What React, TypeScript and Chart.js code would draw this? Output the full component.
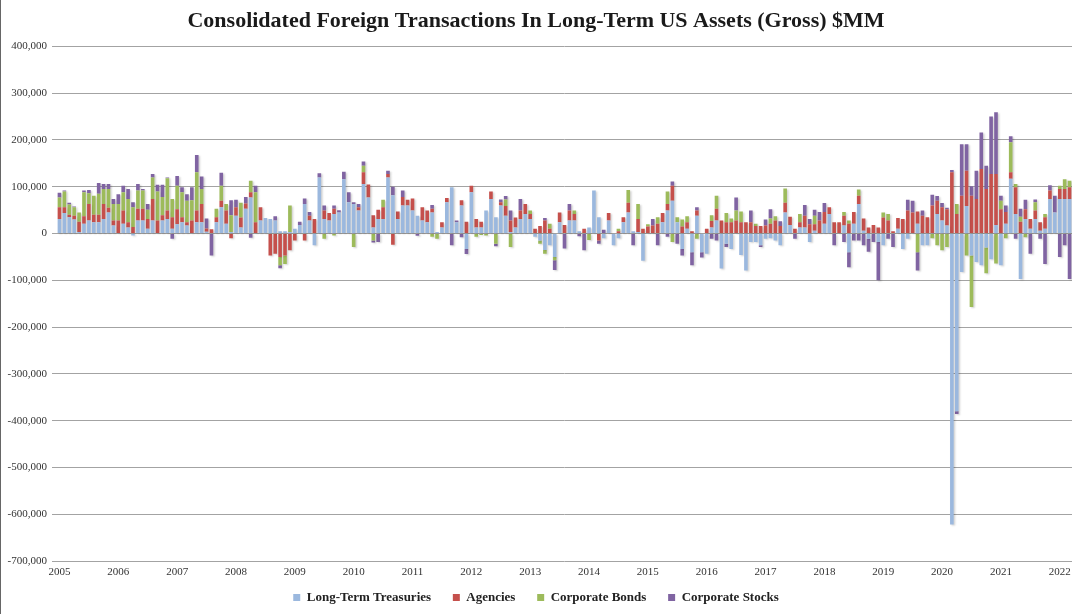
import React, { useEffect, useRef } from "react";
import { Chart, registerables } from "chart.js";

Chart.register(...registerables);

const TITLE = "Consolidated Foreign Transactions In Long-Term US Assets (Gross) $MM";
const YEARS = ["2005","2006","2007","2008","2009","2010","2011","2012","2013","2014","2015","2016","2017","2018","2019","2020","2021","2022"];
const MONTHS = ["Jan","Feb","Mar","Apr","May","Jun","Jul","Aug","Sep","Oct","Nov","Dec"];
const SERIES_NAMES = ["Long-Term Treasuries", "Agencies", "Corporate Bonds", "Corporate Stocks"];

const TREASURIES = [
  31000, 44000, 35000, 30000, 3000, 21000, 28000, 24000, 24000, 31000,
  45000, 17000, 0, 21000, 13000, -4000, 28000, 28000, 10000, 28000,
  0, 28000, 31000, 10000, 20000, 24000, 17000, 0, 24000, 24000,
  4000, 0, 24000, 56000, 21000, 3000, 38000, 13000, 53000, 77000,
  0, 28000, 33000, 31000, 28000, 5000, 5000, 3000, 10000, 18000,
  63000, 28000, -25000, 120000, 31000, 28000, 42000, 45000, 116000, 67000,
  63000, 49000, 106000, 77000, 13000, 31000, 31000, 120000, 82000, 31000,
  60000, 60000, 49000, 38000, 28000, 24000, 45000, 3000, 13000, 67000,
  99000, 24000, 60000, -33000, 88000, 13000, 13000, 49000, 74000, 35000,
  60000, 38000, 3000, 13000, 31000, 42000, 31000, -7000, -15000, -35000,
  -25000, -50000, 24000, 0, 28000, 28000, 5000, 0, 13000, 92000,
  35000, -10000, 28000, -25000, -10000, 24000, 45000, 5000, 3000, -58000,
  0, 0, 0, 24000, 49000, 70000, 24000, -33000, 10000, -40000,
  38000, -40000, -43000, 13000, 28000, -75000, -22000, -33000, 0, -46000,
  -79000, -18000, -18000, -25000, -11000, -10000, -15000, -25000, 45000, 18000,
  0, 13000, 13000, -18000, 6000, 0, 21000, 42000, 0, 0,
  17000, -40000, 21000, 63000, 6000, -11000, 0, -18000, -25000, 0,
  0, 10000, -33000, -11000, 0, 21000, -25000, -25000, 0, 42000,
  28000, 17000, -622000, -380000, -82000, 59000, -47000, -61000, -68000, -30000,
  -55000, 18000, -68000, 21000, 117000, 42000, -97000, 31000, 10000, 31000,
  6000, 10000, 74000, 45000, 74000, 74000, 74000
];

const AGENCIES = [
  25000, 12000, 5000, 8000, 22000, 16000, 35000, 16000, 16000, 32000,
  10000, 11000, 28000, 28000, 11000, 14000, 25000, 25000, 21000, 46000,
  28000, 11000, 18000, 25000, 32000, 11000, 7000, 28000, 25000, 39000,
  7000, 9000, 11000, 14000, 28000, -10000, 18000, 21000, 11000, 11000,
  24000, 28000, 0, -47000, -43000, -50000, -47000, -36000, -15000, 0,
  -15000, 10000, 31000, 0, 18000, 16000, 11000, 0, 0, 0,
  0, 7000, 25000, 28000, 26000, 20000, 25000, 7000, -24000, 16000,
  18000, 12000, 26000, 0, 28000, 25000, 8000, 0, 11000, 9000,
  0, 0, 11000, 25000, 14000, 18000, 12000, 0, 16000, 0,
  7000, 21000, 25000, 21000, 18000, 21000, 11000, 10000, 16000, 28000,
  10000, 0, 21000, 18000, 21000, 14000, 0, 10000, 0, 0,
  -15000, 0, 16000, 0, 5000, 11000, 21000, 0, 28000, 10000,
  15000, 17000, 21000, 20000, 14000, 32000, 0, 15000, 14000, 5000,
  11000, 0, 10000, 14000, 25000, 28000, 24000, 24000, 28000, 24000,
  24000, 24000, 16000, 16000, 17000, 21000, 28000, 16000, 21000, 18000,
  10000, 11000, 25000, 20000, 14000, 28000, 25000, 14000, 24000, 24000,
  21000, 21000, 25000, 18000, 26000, 13000, 18000, 13000, 34000, 28000,
  5000, 23000, 31000, 49000, 45000, 26000, 38000, 35000, 60000, 28000,
  28000, 35000, 131000, 42000, 81000, 75000, 81000, 74000, 138000, 95000,
  127000, 109000, 52000, 25000, 14000, 57000, 25000, 21000, 21000, 18000,
  18000, 25000, 18000, 0, 21000, 21000, 25000
];

const CORPORATE_BONDS = [
  21000, 34000, 22000, 18000, 20000, 51000, 23000, 41000, 45000, 32000,
  40000, 35000, 35000, 39000, 50000, 42000, 39000, 39000, 20000, 46000,
  62000, 39000, 69000, 39000, 50000, 53000, 46000, 43000, 82000, 32000,
  0, 0, 18000, 32000, 14000, 36000, 0, 32000, 0, 25000,
  64000, 0, 0, 0, 0, -18000, -18000, 57000, 0, 0,
  0, 0, 0, 0, -11000, 0, -4000, 0, 0, 0,
  -29000, 0, 14000, 0, -15000, 0, 16000, 0, 0, 0,
  0, 0, 0, 0, 0, 0, -7000, -11000, 0, 0,
  0, 0, 0, 0, 0, -7000, -3000, -4000, 0, -22000,
  0, 14000, -29000, 0, 0, 0, 7000, 0, -7000, -8000,
  11000, -7000, 0, 0, 0, 7000, 0, 0, -14000, 0,
  0, 0, 0, 0, 5000, 0, 27000, 0, 32000, 0,
  5000, 0, 14000, 0, 27000, -18000, 11000, 15000, 13000, 0,
  -11000, 0, 0, 12000, 28000, 0, 20000, 8000, 21000, 23000,
  0, 0, 5000, 0, 0, 11000, 9000, 0, 30000, 0,
  0, 18000, 0, 0, 18000, 0, 0, 0, 0, 0,
  8000, 7000, 0, 13000, 0, 0, 0, 0, 11000, 14000,
  0, 0, 0, 0, 0, -40000, 0, 0, -10000, -25000,
  -36000, -29000, 0, 21000, 0, -47000, -110000, 0, 0, -55000,
  0, -64000, 18000, -10000, 64000, 7000, 11000, -8000, 0, 18000,
  0, 7000, 0, 0, 7000, 21000, 14000
];

const CORPORATE_STOCKS = [
  10000, 2000, 4000, 2000, 0, 4000, 7000, 0, 23000, 11000,
  11000, 11000, 21000, 14000, 21000, 11000, 14000, 3000, 12000, 7000,
  14000, 26000, 2000, -11000, 21000, 11000, 14000, 28000, 37000, 27000,
  21000, -47000, 0, 28000, 0, 32000, 16000, 0, 14000, -9000,
  14000, 0, 0, 0, 9000, -6000, 0, 0, 0, 7000,
  12000, 8000, 0, 9000, 11000, 0, 7000, 5000, 16000, 21000,
  4000, 7000, 9000, 0, -4000, -18000, 0, 7000, 18000, 0,
  14000, 0, 0, -5000, 0, 0, 8000, 0, 0, 0,
  -25000, 4000, -8000, -11000, 0, 0, 0, 0, 0, -5000,
  6000, 7000, 21000, 0, 25000, 0, 0, 0, 0, 5000,
  0, -21000, 0, -32000, 14000, 0, -6000, -36000, 0, 0,
  -7000, 8000, 0, 0, 0, 0, 0, -25000, 0, 0,
  0, 14000, -25000, 0, -7000, 9000, -22000, -14000, 0, -28000,
  7000, -11000, 0, -11000, -15000, 0, -7000, 0, 28000, 0,
  0, 25000, 0, -4000, 13000, 20000, 0, 10000, 0, 0,
  -11000, 0, 23000, 11000, 13000, 18000, 19000, 0, -25000, 0,
  -18000, -32000, -15000, -15000, -25000, -28000, -18000, -82000, 0, -11000,
  -29000, 0, 0, 23000, 25000, -39000, 11000, 0, 23000, 10000,
  9000, 3000, 5000, -6000, 110000, 57000, 20000, 60000, 78000, 50000,
  123000, 132000, 11000, 14000, 13000, -11000, 17000, 20000, -43000, 6000,
  -11000, -65000, 11000, 36000, -50000, -25000, -97000
];

const COLORS = ["#9bb8de", "#c5504c", "#9dbb5b", "#8064a2"];

const CATEGORIES: string[] = [];
for (const y of YEARS) {
  for (const m of MONTHS) {
    if (CATEGORIES.length < TREASURIES.length) CATEGORIES.push(m + " " + y);
  }
}

const SERIF = "'Liberation Serif', 'Times New Roman', serif";

const shadowPlugin = {
  id: "barShadow",
  beforeDatasetsDraw(chart: any) {
    const ctx = chart.ctx;
    ctx.save();
    ctx.shadowColor = "rgba(0,0,0,0.18)";
    ctx.shadowBlur = 2;
    ctx.shadowOffsetX = 1.5;
    ctx.shadowOffsetY = 1;
  },
  afterDatasetsDraw(chart: any) {
    chart.ctx.restore();
  },
};

export default function App() {
  const ref = useRef<HTMLCanvasElement | null>(null);

  useEffect(() => {
    document.body.style.margin = "0";
    if (!ref.current) return;
    const seriesData = [TREASURIES, AGENCIES, CORPORATE_BONDS, CORPORATE_STOCKS];
    const chart = new Chart(ref.current, {
      type: "bar",
      data: {
        labels: CATEGORIES,
        datasets: SERIES_NAMES.map((name, i) => ({
          label: name,
          data: seriesData[i],
          backgroundColor: COLORS[i],
          borderWidth: 0,
          barPercentage: 0.74,
          categoryPercentage: 1.0,
          stack: "s",
        })),
      },
      options: {
        responsive: false,
        animation: false,
        devicePixelRatio: 1,
        layout: { padding: { left: 0, right: 8, top: 0, bottom: 0 } },
        plugins: {
          title: {
            display: true,
            text: TITLE,
            color: "#1a1a1a",
            font: { family: SERIF, size: 22, weight: "bold" },
            padding: { top: 8, bottom: 12 },
          },
          legend: {
            position: "bottom",
            labels: {
              color: "#222",
              font: { family: SERIF, size: 13, weight: "bold" },
              boxWidth: 7,
              boxHeight: 7,
              padding: 12,
              generateLabels: (chart: any) => {
                const items = Chart.defaults.plugins.legend.labels.generateLabels(chart);
                return items.map((it: any, i: number) => ({
                  ...it,
                  text: i < items.length - 1 ? it.text + "   " : it.text,
                }));
              },
            },
          },
          tooltip: { enabled: false },
        },
        scales: {
          x: {
            stacked: true,
            grid: { display: false, drawTicks: false },
            border: { display: false },
            ticks: {
              autoSkip: false,
              maxRotation: 0,
              minRotation: 0,
              padding: 5,
              color: "#333",
              font: { family: SERIF, size: 11 },
              callback: (_v: any, idx: number) => (idx % 12 === 0 ? YEARS[idx / 12] : ""),
            },
            afterFit: (scale: any) => {
              scale.height = 18;
            },
          },
          y: {
            stacked: true,
            min: -700000,
            max: 400000,
            grid: { color: "#a3a3a3", lineWidth: 1, drawTicks: true, tickLength: 5 },
            border: { display: false },
            ticks: {
              stepSize: 100000,
              padding: 5,
              color: "#333",
              font: { family: SERIF, size: 11 },
              callback: (v: any) => Number(v).toLocaleString("en-US"),
            },
            afterFit: (scale: any) => {
              scale.width = 57;
            },
          },
        },
      },
      plugins: [shadowPlugin],
    } as any);
    return () => chart.destroy();
  }, []);

  return (
    <div style={{ position: "relative", width: 1080, height: 614, background: "#fff" }}>
      <canvas ref={ref} width={1080} height={614} />
      <div style={{ position: "absolute", left: 0, top: 0, width: 1, height: 614, background: "#666" }} />
    </div>
  );
}
